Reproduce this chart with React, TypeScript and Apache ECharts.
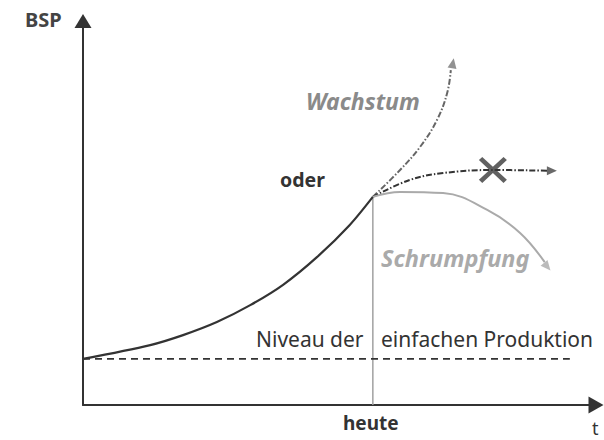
import React, { useEffect, useRef } from "react";
import * as echarts from "echarts";

// Data (t, BSP) in abstract units: t 0..10, BSP 0..10
const growthToToday: [number, number][] = [
  [0, 1.2], [1.31, 1.56], [1.95, 1.82], [2.61, 2.16], [3.26, 2.6], [3.9, 3.13], [4.56, 3.85], [5.2, 4.69], [5.65, 5.42],
];
const wachstum: [number, number][] = [
  [5.65, 5.42], [6.18, 6.12], [6.57, 6.72], [6.9, 7.42], [7.1, 8.13], [7.17, 8.72],
];
const wachstumHead: [number, number][] = [[7.21, 8.9]];
const stagnation: [number, number][] = [
  [5.65, 5.42], [6.37, 5.86], [7.02, 6.04], [7.99, 6.12], [9.06, 6.1],
];
const stagnationHead: [number, number][] = [[9.14, 6.1]];
const crossMark: [number, number][] = [[7.99, 6.12]];
const schrumpfung: [number, number][] = [
  [5.65, 5.42], [6.18, 5.55], [7.02, 5.52], [7.88, 5.08], [8.52, 4.48], [9.0, 3.72],
];
const schrumpfungHead: [number, number][] = [[9.05, 3.6]];
const einfacheProduktion: [number, number][] = [[0, 1.2], [9.49, 1.2]];
const heuteLine: [number, number][] = [[5.65, 0], [5.65, 5.42]];

const FONT = "'Noto Sans', 'Open Sans', sans-serif";

export default function App() {
  const ref = useRef<HTMLDivElement>(null);
  useEffect(() => {
    if (!ref.current) return;
    const chart = echarts.init(ref.current, undefined, { renderer: "svg" });
    const noAxisDecor = {
      axisTick: { show: false },
      axisLabel: { show: false },
      splitLine: { show: false },
    };
    const head = (data: [number, number][], color: string, rot: number) => ({
      type: "scatter",
      data,
      symbol: "triangle",
      symbolSize: [9, 10],
      symbolRotate: rot,
      itemStyle: { color },
      silent: true,
      z: 5,
    });
    chart.setOption({
      animation: false,
      backgroundColor: "#ffffff",
      grid: { left: 83, right: 8, top: 21, bottom: 35 },
      xAxis: {
        type: "value",
        min: 0,
        max: 10,
        axisLine: {
          show: true,
          onZero: false,
          symbol: ["none", "triangle"],
          symbolSize: [17, 15],
          lineStyle: { color: "#333", width: 2 },
        },
        ...noAxisDecor,
      },
      yAxis: {
        type: "value",
        min: 0,
        max: 10,
        axisLine: {
          show: true,
          onZero: false,
          symbol: ["none", "triangle"],
          symbolSize: [17, 14],
          lineStyle: { color: "#333", width: 2 },
        },
        ...noAxisDecor,
      },
      series: [
        {
          type: "line",
          data: heuteLine,
          showSymbol: false,
          lineStyle: { color: "#a0a0a0", width: 1.5 },
          silent: true,
        },
        {
          type: "line",
          data: einfacheProduktion,
          showSymbol: false,
          lineStyle: { color: "#333", width: 1.6, type: [7, 5] },
          silent: true,
        },
        {
          type: "line",
          data: growthToToday,
          smooth: 0.3,
          showSymbol: false,
          lineStyle: { color: "#333", width: 2.2 },
          silent: true,
        },
        {
          type: "line",
          data: wachstum,
          smooth: 0.4,
          showSymbol: false,
          lineStyle: { color: "#666", width: 2, type: [6, 2, 1.5, 2] },
          silent: true,
        },
        head(wachstumHead, "#777", -10),
        {
          type: "line",
          data: stagnation,
          smooth: 0.4,
          showSymbol: false,
          lineStyle: { color: "#333", width: 2, type: [6, 2, 1.5, 2] },
          silent: true,
        },
        head(stagnationHead, "#444", -90),
        {
          type: "line",
          data: schrumpfung,
          smooth: 0.4,
          showSymbol: false,
          lineStyle: { color: "#aaa", width: 2 },
          silent: true,
        },
        head(schrumpfungHead, "#aaa", 220),
        {
          type: "scatter",
          data: crossMark,
          symbol:
            "path://M0,1.2 L1.2,0 L5,3.8 L8.8,0 L10,1.2 L6.2,5 L10,8.8 L8.8,10 L5,6.2 L1.2,10 L0,8.8 L3.8,5 Z",
          symbolSize: [28, 26],
          itemStyle: { color: "#3a3a3a" },
          silent: true,
          z: 6,
        },
      ],
      graphic: [
        { type: "text", left: 25, top: 9, style: { text: "BSP", fontFamily: FONT, fontSize: 20, fontWeight: "bold", fill: "#444" } },
        { type: "text", left: 306, top: 89, style: { text: "Wachstum", fontFamily: FONT, fontSize: 23, fontWeight: "bold", fontStyle: "italic", fill: "#8a8a8a" } },
        { type: "text", left: 280, top: 169, style: { text: "oder", fontFamily: FONT, fontSize: 19.5, fontWeight: "bold", fill: "#333" } },
        { type: "text", left: 381, top: 246, style: { text: "Schrumpfung", fontFamily: FONT, fontSize: 23.5, fontWeight: "bold", fontStyle: "italic", fill: "#aaa" } },
        { type: "text", left: 256, top: 328, style: { text: "Niveau der", fontFamily: FONT, fontSize: 21, fill: "#333" } },
        { type: "text", left: 381, top: 328, style: { text: "einfachen Produktion", fontFamily: FONT, fontSize: 21, fill: "#333" } },
        { type: "text", left: 343, top: 413, style: { text: "heute", fontFamily: FONT, fontSize: 19, fontWeight: "bold", fill: "#333" } },
        { type: "text", left: 592, top: 419, style: { text: "t", fontFamily: FONT, fontSize: 18, fill: "#333" } },
      ],
    });
    return () => chart.dispose();
  }, []);
  return <div ref={ref} style={{ width: 604, height: 440, position: "absolute", left: 0, top: 0 }} />;
}
